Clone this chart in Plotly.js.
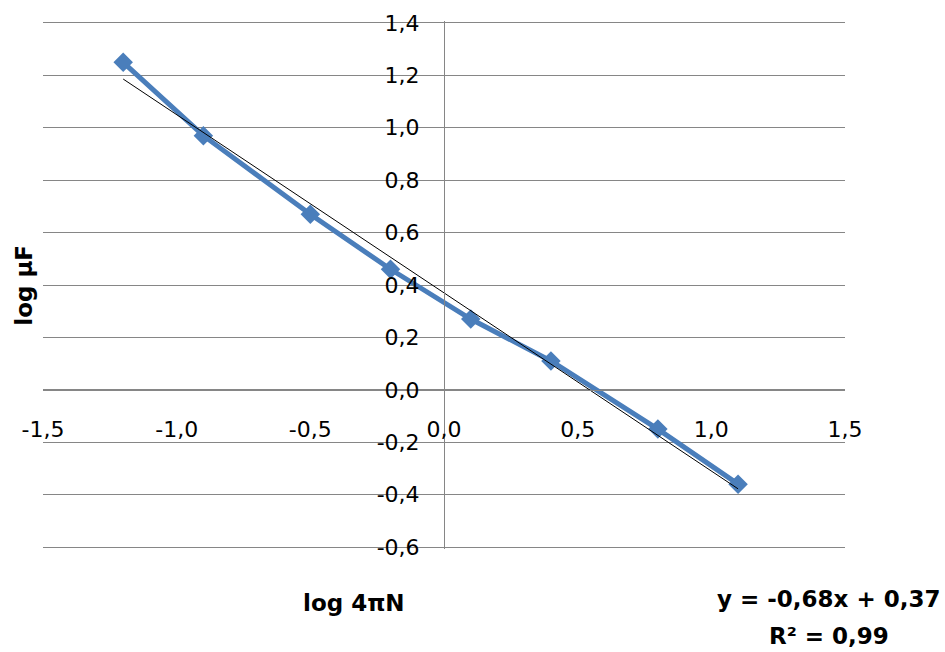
<!DOCTYPE html>
<html>
<head>
<meta charset="utf-8">
<script src="https://cdn.plot.ly/plotly-3.0.1.min.js"></script>
<style>html,body{margin:0;padding:0;background:#fff;}#chart{width:945px;height:652px;}</style>
</head>
<body>
<div id="chart"></div>
<script>
// Data
const logFourPiN = [-1.2, -0.9, -0.5, -0.2, 0.1, 0.4, 0.8, 1.1];
const logMuF     = [1.25, 0.97, 0.67, 0.46, 0.27, 0.11, -0.15, -0.36];

// Linear trendline (as labelled on the chart)
const trendSlope = -0.68;
const trendIntercept = 0.37;

// Tick labels
const xTickVals = [-1.5, -1.0, -0.5, 0.0, 0.5, 1.0, 1.5];
const xTickText = ['-1,5', '-1,0', '-0,5', '0,0', '0,5', '1,0', '1,5'];
const yTickVals = [-0.6, -0.4, -0.2, 0.0, 0.2, 0.4, 0.6, 0.8, 1.0, 1.2, 1.4];
const yTickText = ['-0,6', '-0,4', '-0,2', '0,0', '0,2', '0,4', '0,6', '0,8', '1,0', '1,2', '1,4'];

// Text
const xTitle = 'log 4πN';
const yTitle = 'log µF';
const eqText = 'y = -0,68x + 0,37';
const r2Text = 'R² = 0,99';

const trendX = [Math.min(...logFourPiN), Math.max(...logFourPiN)];
const trendY = trendX.map(v => trendSlope * v + trendIntercept);

const FONT = 'DejaVu Sans, Liberation Sans, Arial, sans-serif';
const GRID = '#868686';

const data = [
  {
    x: logFourPiN, y: logMuF, type: 'scatter', mode: 'lines+markers',
    line: {color: '#4A7EBB', width: 5},
    marker: {symbol: 'diamond', size: 15, color: '#4A7EBB'},
    showlegend: false, hoverinfo: 'x+y'
  },
  {
    x: trendX, y: trendY, type: 'scatter', mode: 'lines',
    line: {color: '#000000', width: 1},
    showlegend: false, hoverinfo: 'skip'
  }
];

const layout = {
  width: 945, height: 652,
  margin: {l: 43, r: 100, t: 21, b: 103},
  paper_bgcolor: '#ffffff', plot_bgcolor: '#ffffff',
  font: {family: FONT, size: 22, color: '#000000'},
  showlegend: false,
  xaxis: {
    range: [-1.5, 1.5], tickvals: xTickVals, ticktext: xTickText,
    showgrid: false, zeroline: false,
    showline: true, linecolor: GRID, linewidth: 1,
    anchor: 'free', position: 0.302, ticks: '',
    ticklabelstandoff: 20,
    tickfont: {family: FONT, size: 22, color: '#000000'}
  },
  yaxis: {
    range: [-0.6076, 1.4076], tickvals: yTickVals, ticktext: yTickText,
    showgrid: true, gridcolor: GRID, gridwidth: 1, zeroline: false,
    showline: true, linecolor: GRID, linewidth: 1,
    anchor: 'free', position: 0.5, ticks: '',
    ticklabelstandoff: 20,
    tickfont: {family: FONT, size: 22, color: '#000000'}
  },
  annotations: [
    {text: '<b>' + xTitle + '</b>', xref: 'paper', yref: 'paper', x: 0.388, y: -0.1023,
     xanchor: 'center', yanchor: 'middle', showarrow: false,
     font: {family: FONT, size: 23, color: '#000000'}},
    {text: '<b>' + yTitle + '</b>', xref: 'paper', yref: 'paper', x: -0.024, y: 0.5,
     xanchor: 'center', yanchor: 'middle', textangle: -90, showarrow: false,
     font: {family: FONT, size: 23, color: '#000000'}},
    {text: '<b>' + eqText + '</b>', xref: 'paper', yref: 'paper', x: 0.979, y: -0.0947,
     xanchor: 'center', yanchor: 'middle', showarrow: false,
     font: {family: FONT, size: 23, color: '#000000'}},
    {text: '<b>' + r2Text + '</b>', xref: 'paper', yref: 'paper', x: 0.98, y: -0.1648,
     xanchor: 'center', yanchor: 'middle', showarrow: false,
     font: {family: FONT, size: 23, color: '#000000'}}
  ]
};

Plotly.newPlot('chart', data, layout, {displayModeBar: false, responsive: false, staticPlot: true});
</script>
</body>
</html>
